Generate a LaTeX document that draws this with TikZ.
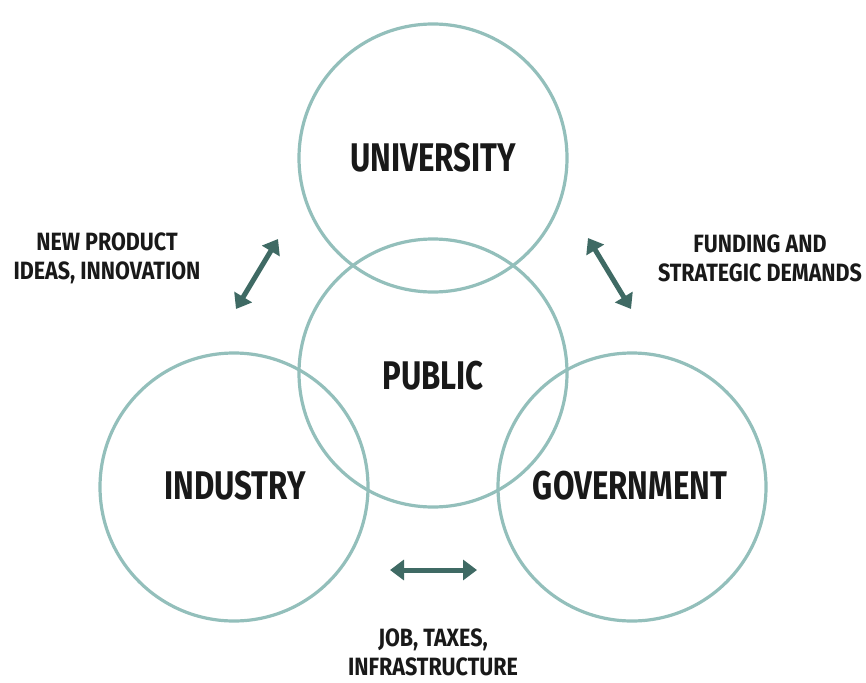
\documentclass[tikz,border=0pt]{standalone}
\usepackage{fontspec}
\setmainfont{Fira Sans}[FakeStretch=0.78]
\newfontfamily\smallf{Fira Sans}[FakeStretch=0.86]
\usetikzlibrary{arrows.meta}
\definecolor{ring}{HTML}{93BFBB}
\definecolor{arr}{HTML}{3F6A64}
\begin{document}
\begin{tikzpicture}[x=1pt,y=-1pt,
  ringc/.style={draw=ring,line width=3.2pt,circle,minimum size=268pt,inner sep=0pt},
  big/.style={font=\fontsize{40}{44}\selectfont\bfseries,text=black!90},
  small/.style={font=\smallf\fontsize{25}{29}\selectfont\bfseries,text=black!90,align=center,inner sep=0pt},
  dbl/.style={draw=arr,line width=5pt,{Triangle[length=14pt,width=20pt]}-{Triangle[length=14pt,width=20pt]}}]
\useasboundingbox (0,0) rectangle (866,682);
\node[ringc] (u) at (433,158) {};
\node[ringc] (p) at (433,373) {};
\node[ringc] (i) at (234,487) {};
\node[ringc] (g) at (632,487) {};
\node[big] (ut) at (433,158) {UNIVERSITY};
\node[big] (pt) at (433,376) {PUBLIC};
\node[big] (it) at (235,486) {INDUSTRY};
\node[big] (gt) at (630,486) {GOVERNMENT};
\node[small] (l1) at (107,258) {NEW PRODUCT\\IDEAS, INNOVATION};
\node[small] (l2) at (760,258) {FUNDING AND\\STRATEGIC DEMANDS};
\node[small] (l3) at (433,652) {JOB, TAXES,\\INFRASTRUCTURE};
\coordinate (a1) at (278,239);
\coordinate (b1) at (236,309);
\coordinate (a2) at (588,238);
\coordinate (b2) at (631,309);
\coordinate (a3) at (390,570);
\coordinate (b3) at (477,570);
\draw[dbl] (a1) -- (b1);
\draw[dbl] (a2) -- (b2);
\draw[dbl] (a3) -- (b3);
\end{tikzpicture}
\end{document}
